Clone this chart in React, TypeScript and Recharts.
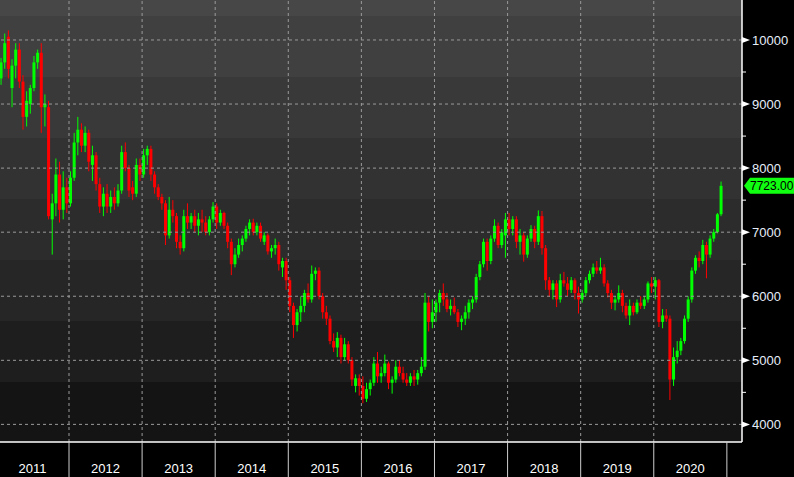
import React from "react";
import { ComposedChart, Bar, XAxis, YAxis, ReferenceLine } from "recharts";

// open, high, low, close — about three weeks per candle, 20 per year
type Candle = [number, number, number, number];

const c2011: Candle[] = [
  [9400, 9720, 9300, 9650], [9650, 10100, 9550, 9950], [10050, 10150, 9400, 9550],
  [9250, 9700, 8950, 9600], [9600, 9950, 9400, 9850], [9850, 9950, 9250, 9350],
  [9350, 9450, 8600, 8800], [8800, 9200, 8650, 9050], [9000, 9300, 8850, 9250],
  [9250, 9750, 9200, 9650], [9650, 9850, 9550, 9800], [9800, 9950, 8550, 8950],
  [8950, 9150, 8650, 9000], [8950, 9050, 7200, 7250], [7200, 7600, 6650, 7450],
  [7450, 8150, 7250, 7900], [7900, 8100, 7150, 7350], [7350, 7950, 7200, 7700],
  [7700, 7850, 7300, 7450],
];
const c2012: Candle[] = [
  [7450, 7950, 7400, 7850], [7850, 8550, 7800, 8400], [8400, 8800, 8200, 8600],
  [8600, 8700, 8250, 8350], [8350, 8650, 8250, 8550], [8550, 8600, 7950, 8100],
  [8050, 8350, 7800, 8200], [8200, 8250, 7650, 7750], [7750, 7850, 7300, 7400],
  [7400, 7700, 7250, 7600], [7600, 7750, 7300, 7400], [7400, 7650, 7300, 7550],
  [7550, 7700, 7350, 7450], [7450, 7750, 7400, 7650], [7650, 8350, 7600, 8250],
  [8250, 8400, 7950, 8000], [8000, 8050, 7550, 7650], [7700, 7800, 7500, 7600],
  [7600, 8150, 7550, 8050], [8050, 8150, 7800, 7900],
];
const c2013: Candle[] = [
  [7900, 8300, 7850, 8200], [8200, 8350, 8050, 8300], [8300, 8350, 7800, 7900],
  [7900, 7950, 7600, 7700], [7700, 7750, 7500, 7550], [7550, 7600, 7350, 7450],
  [7450, 7500, 6800, 6950], [6950, 7550, 6900, 7350], [7350, 7500, 7150, 7250],
  [7250, 7300, 6750, 6850], [6850, 6950, 6650, 6750], [6750, 7350, 6700, 7250],
  [7250, 7450, 7050, 7150], [7150, 7300, 7050, 7250], [7250, 7350, 7000, 7100],
  [7100, 7300, 6950, 7200], [7200, 7350, 7000, 7150], [7150, 7250, 6950, 7000],
  [7000, 7250, 6950, 7200], [7200, 7470, 7150, 7400],
];
const c2014: Candle[] = [
  [7400, 7450, 7050, 7150], [7150, 7350, 7100, 7300], [7300, 7320, 7050, 7100],
  [7100, 7150, 6750, 6850], [6850, 6900, 6330, 6500], [6500, 6750, 6450, 6650],
  [6650, 6900, 6600, 6800], [6800, 6950, 6700, 6900], [6900, 7100, 6850, 7050],
  [7050, 7200, 6950, 7150], [7150, 7210, 6950, 7000], [7000, 7150, 6950, 7100],
  [7100, 7150, 6850, 6900], [6850, 7000, 6800, 6950], [6950, 6980, 6650, 6700],
  [6700, 6800, 6600, 6750], [6750, 6900, 6650, 6800], [6800, 6850, 6400, 6500],
  [6450, 6600, 6300, 6550], [6550, 6600, 6100, 6250],
];
const c2015: Candle[] = [
  [6250, 6300, 5750, 5850], [5850, 5900, 5350, 5550], [5550, 5800, 5450, 5750],
  [5750, 6000, 5600, 5850], [5850, 6100, 5750, 6050], [6050, 6200, 5900, 5950],
  [5950, 6480, 5900, 6350], [6350, 6450, 6250, 6400], [6400, 6450, 5950, 6000],
  [6000, 6050, 5650, 5750], [5750, 5850, 5550, 5650], [5650, 5700, 5250, 5300],
  [5300, 5420, 5130, 5200], [5200, 5440, 5050, 5350], [5350, 5400, 4950, 5050],
  [5050, 5350, 5000, 5250], [5250, 5300, 4950, 5000], [5000, 5050, 4600, 4700],
  [4600, 4780, 4500, 4720], [4720, 4780, 4450, 4600],
];
const c2016: Candle[] = [
  [4600, 4750, 4330, 4400], [4400, 4650, 4350, 4550], [4550, 4700, 4450, 4650],
  [4650, 5050, 4600, 4950], [4950, 5130, 4650, 4750], [4750, 4900, 4650, 4800],
  [4800, 5090, 4750, 4950], [4950, 4980, 4550, 4650], [4650, 4750, 4480, 4700],
  [4700, 5000, 4650, 4900], [4900, 5000, 4750, 4800], [4800, 4900, 4650, 4700],
  [4700, 4800, 4600, 4650], [4650, 4800, 4600, 4750], [4750, 4850, 4600, 4700],
  [4700, 4850, 4620, 4800], [4800, 5050, 4750, 4900], [4900, 6050, 4850, 5900],
  [5900, 6000, 5450, 5600], [5600, 5950, 5500, 5750],
];
const c2017: Candle[] = [
  [5750, 5950, 5600, 5900], [5900, 6100, 5750, 6050], [6050, 6200, 5850, 5950],
  [5950, 6050, 5750, 5800], [5800, 5950, 5700, 5850], [5850, 5980, 5720, 5750],
  [5750, 5800, 5520, 5600], [5600, 5700, 5470, 5650], [5650, 5850, 5550, 5750],
  [5750, 5950, 5650, 5900], [5900, 6000, 5800, 5950], [5950, 6350, 5900, 6300],
  [6300, 6550, 6250, 6500], [6500, 6900, 6450, 6850], [6850, 6900, 6400, 6550],
  [6550, 6950, 6500, 6900], [6900, 7200, 6850, 7100], [7100, 7150, 6750, 6800],
  [6800, 7050, 6750, 7000], [6950, 7300, 6600, 7200],
];
const c2018: Candle[] = [
  [7200, 7300, 6950, 7050], [7050, 7250, 6950, 7200], [7200, 7250, 6750, 6850],
  [6850, 7050, 6650, 6950], [6950, 7000, 6540, 6650], [6650, 6950, 6600, 6900],
  [6900, 7110, 6850, 7050], [7050, 7100, 6750, 6850], [6850, 7340, 6800, 7250],
  [7250, 7330, 6650, 6750], [6750, 6800, 6100, 6250], [6250, 6300, 5990, 6100],
  [6100, 6250, 5950, 6200], [6200, 6250, 5830, 5950], [5950, 6350, 5900, 6250],
  [6250, 6380, 6150, 6200], [6200, 6300, 6000, 6100], [6100, 6300, 6050, 6250],
  [6250, 6280, 5950, 6050], [6050, 6150, 5730, 5950],
];
const c2019: Candle[] = [
  [5950, 6100, 5900, 6050], [6050, 6300, 6000, 6250], [6250, 6400, 6200, 6350],
  [6350, 6510, 6300, 6450], [6450, 6550, 6350, 6400], [6400, 6600, 6350, 6450],
  [6450, 6500, 6150, 6200], [6200, 6250, 5980, 6050], [6050, 6100, 5800, 5900],
  [5900, 6000, 5780, 5950], [5950, 6170, 5900, 6050], [6050, 6100, 5750, 5850],
  [5850, 5900, 5650, 5700], [5700, 5950, 5550, 5850], [5850, 5900, 5700, 5750],
  [5750, 5950, 5720, 5900], [5900, 6000, 5800, 5850], [5850, 6000, 5800, 5950],
  [5950, 6230, 5900, 6200], [6200, 6300, 6050, 6150],
];
const c2020: Candle[] = [
  [6150, 6300, 5950, 6250], [6250, 6270, 5520, 5600], [5600, 5800, 5500, 5700],
  [5700, 5800, 5600, 5650], [5650, 5700, 4380, 4700], [4700, 5200, 4600, 5050],
  [5050, 5300, 4950, 5150], [5150, 5350, 5080, 5300], [5300, 5700, 5260, 5650],
  [5650, 6000, 5600, 5950], [5950, 6450, 5900, 6400], [6400, 6640, 6350, 6600],
  [6600, 6700, 6450, 6550], [6550, 6880, 6500, 6800], [6800, 6850, 6280, 6650],
  [6650, 6950, 6600, 6900], [6900, 7050, 6850, 7000], [7000, 7300, 6980, 7280],
  [7280, 7790, 7250, 7723],
];

const years = [2011, 2012, 2013, 2014, 2015, 2016, 2017, 2018, 2019, 2020];
const candlesByYear = [c2011, c2012, c2013, c2014, c2015, c2016, c2017, c2018, c2019, c2020];
const priceTicks = [4000, 4500, 5000, 5500, 6000, 6500, 7000, 7500, 8000, 8500, 9000, 9500, 10000];
const lastPrice = 7723;

const SLOTS = 20;
const X_DOMAIN: [number, number] = [2011.056, 2021.207];
const Y_DOMAIN: [number, number] = [3725, 10624];
const W = 794;
const H = 477;
const PLOT_W = 742;
const PLOT_H = 442;
const HALF_YEAR = PLOT_W / (X_DOMAIN[1] - X_DOMAIN[0]) / 2;

// 2011 starts one slot late (late January)
const data = years.flatMap((year, yi) => {
  const list = candlesByYear[yi];
  const offset = year === 2011 ? SLOTS - list.length : 0;
  return list.map(([open, high, low, close], i) => ({
    t: year + (i + offset + 0.5) / SLOTS,
    open, high, low, close,
    range: [low, high],
  }));
});

const gridYears = years.slice(1);
const yearMids = years.map((y) => y + 0.5);
const majorPrices = priceTicks.filter((p) => p % 1000 === 0);

const FONT = "'Liberation Sans', Arial, sans-serif";
const GRID = "#9a9a9a";

const bands = [
  ["#474747", 0, 16], ["#404040", 16, 77], ["#393939", 77, 138], ["#323232", 138, 199],
  ["#2c2c2c", 199, 260], ["#262626", 260, 321], ["#1e1e1e", 321, 382], ["#141414", 382, 442],
] as const;
const bandGradient = `linear-gradient(to bottom, ${bands
  .map(([c, a, b]) => `${c} ${a}px, ${c} ${b}px`)
  .join(", ")})`;

const CandleShape = (props: any) => {
  const { x, y, width, height, payload } = props;
  if (!payload || height == null) return null;
  const { open, close, high, low } = payload;
  const top = Math.min(y, y + height);
  const h = Math.abs(height);
  const span = high - low || 1;
  const at = (v: number) => top + ((high - v) / span) * h;
  const color = close >= open ? "#00ff00" : "#ff0000";
  const bTop = at(Math.max(open, close));
  const bBot = at(Math.min(open, close));
  const cx = x + width / 2;
  return (
    <g>
      <line x1={cx} x2={cx} y1={top} y2={top + h} stroke={color} strokeWidth={1} />
      <rect x={x} y={bTop} width={width} height={Math.max(1, bBot - bTop)} fill={color} />
    </g>
  );
};

const YearTick = (props: any) => {
  const { x, y, payload } = props;
  return (
    <g>
      <line x1={x + HALF_YEAR} x2={x + HALF_YEAR} y1={y} y2={y + 35} stroke="#cfcfcf" strokeWidth={1} />
      <text x={x} y={y + 31} textAnchor="middle" fill="#ffffff" fontSize={13} fontFamily={FONT}>
        {payload.value - 0.5}
      </text>
    </g>
  );
};

const PriceTick = (props: any) => {
  const { x, y, payload } = props;
  const v = payload.value;
  if (v % 1000 !== 0) {
    return <line x1={x} x2={x + 4} y1={y} y2={y} stroke="#ffffff" strokeWidth={1} />;
  }
  return (
    <g>
      <path d={`M${x} ${y - 3} L${x + 8} ${y} L${x} ${y + 3} Z`} fill="#ffffff" />
      <text x={x + 10} y={y} dy="0.36em" fill="#e6eefa" fontSize={13} fontFamily={FONT}>
        {v}
      </text>
    </g>
  );
};

const PriceTag = (props: any) => {
  const vb = props.viewBox || {};
  const x0 = (vb.x ?? 0) + (vb.width ?? PLOT_W) + 2;
  const y0 = vb.y ?? 0;
  return (
    <g>
      <path
        d={`M${x0} ${y0} L${x0 + 6} ${y0 - 8} L${W + 4} ${y0 - 8} L${W + 4} ${y0 + 8} L${x0 + 6} ${y0 + 8} Z`}
        fill="#10ff10"
      />
      <text x={x0 + 6} y={y0} dy="0.36em" fill="#000000" fontSize={12} fontFamily={FONT}>
        {lastPrice.toFixed(2)}
      </text>
    </g>
  );
};

export default function App() {
  return (
    <div style={{ position: "relative", width: W, height: H, background: "#000", overflow: "hidden" }}>
      <style>{"body{margin:0;background:#000}"}</style>
      <div style={{ position: "absolute", left: 0, top: 0, width: PLOT_W, height: PLOT_H, background: bandGradient }} />
      <div style={{ position: "absolute", left: 0, top: 0 }}>
        <ComposedChart width={W} height={H} data={data} margin={{ top: 0, right: 0, left: 0, bottom: 0 }}>
          <XAxis
            dataKey="t"
            type="number"
            domain={X_DOMAIN}
            allowDataOverflow
            ticks={yearMids}
            interval={0}
            height={H - PLOT_H}
            tickSize={0}
            tickMargin={0}
            tickLine={false}
            axisLine={{ stroke: "#ffffff", strokeWidth: 1.5 }}
            tick={<YearTick />}
          />
          <YAxis
            orientation="right"
            type="number"
            domain={Y_DOMAIN}
            allowDataOverflow
            ticks={priceTicks}
            interval={0}
            width={W - PLOT_W}
            tickSize={0}
            tickMargin={0}
            tickLine={false}
            axisLine={{ stroke: "#ffffff", strokeWidth: 1.5 }}
            tick={<PriceTick />}
          />
          {gridYears.map((yr) => (
            <ReferenceLine key={`gx${yr}`} x={yr} stroke={GRID} strokeDasharray="3 3" />
          ))}
          {majorPrices.map((p) => (
            <ReferenceLine key={`gy${p}`} y={p} stroke={GRID} strokeDasharray="3 3" />
          ))}
          <Bar dataKey="range" barSize={3} shape={<CandleShape />} isAnimationActive={false} />
          <ReferenceLine y={lastPrice} stroke="none" ifOverflow="visible" label={<PriceTag />} />
        </ComposedChart>
      </div>
    </div>
  );
}
